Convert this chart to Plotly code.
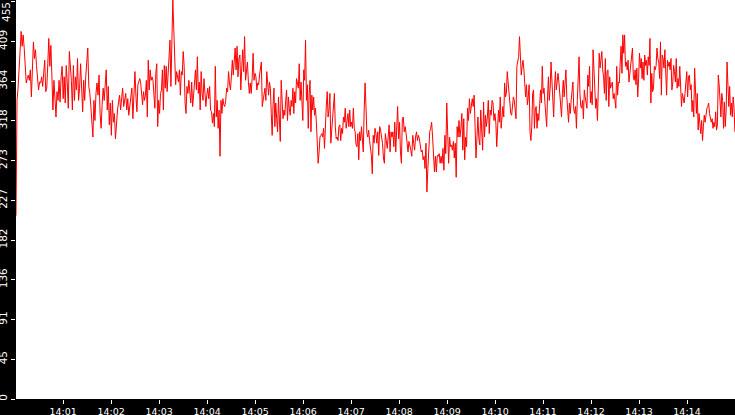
import numpy as np
import pandas as pd
import plotly.graph_objects as go

START = pd.Timestamp("2024-01-01 14:00:01")
SEGMENT_SECONDS = 150

# readings, one list per 2.5 minute window
seg_1400 = [210, 342, 356, 375, 402, 421, 404, 417, 402, 384, 362, 367, 371, 365, 377, 346, 379, 409, 390, 400,
            382, 371, 354, 363, 362, 369, 358, 373, 388, 352, 356, 384, 413, 381, 405, 371, 331, 365, 340, 323,
            352, 342, 365, 340, 369, 381, 344, 369, 339, 382, 362, 333, 398, 379, 365, 331, 382, 342, 369, 354,
            390, 342, 356, 384, 362, 329, 365, 342, 369, 382, 402, 358, 350, 335, 321, 300, 342, 319, 350, 362,
            348, 371, 327, 310, 337, 356, 342, 365, 377, 331, 358, 314, 339, 302, 342, 317, 327, 298, 319, 331,
            340, 348, 331, 346, 356, 335, 342, 350, 331, 344, 325, 335, 342, 356, 321, 354, 375]
seg_1402 = [346, 329, 360, 365, 367, 362, 346, 337, 352, 342, 348, 365, 323, 388, 354, 377, 365, 369, 365, 348,
            333, 373, 384, 312, 342, 327, 350, 354, 377, 331, 382, 356, 381, 352, 375, 382, 411, 358, 425, 457,
            425, 394, 360, 375, 369, 363, 377, 348, 375, 371, 398, 382, 339, 327, 358, 350, 365, 346, 339, 363,
            335, 348, 363, 377, 354, 392, 350, 363, 331, 375, 350, 342, 367, 354, 335, 348, 356, 344, 358, 331,
            329, 316, 327, 312, 381, 323, 342, 310, 331, 278, 342, 327, 344, 337, 335, 342, 356, 352, 375, 362,
            354, 369, 388, 371, 390, 402, 377, 404, 369, 390, 394, 354, 379, 400, 375, 415, 365, 381, 386, 363,
            350, 362, 350, 367, 396, 365, 373]
seg_1405 = [369, 354, 362, 360, 371, 377, 386, 335, 342, 350, 356, 342, 375, 362, 348, 363, 356, 327, 302, 337,
            356, 312, 339, 321, 306, 346, 325, 295, 365, 335, 321, 331, 325, 342, 354, 319, 346, 333, 325, 342,
            335, 356, 327, 352, 339, 367, 363, 356, 384, 342, 363, 331, 319, 377, 365, 411, 342, 360, 310, 350,
            365, 306, 348, 331, 346, 325, 333, 317, 289, 270, 283, 300, 302, 304, 300, 310, 287, 319, 335, 352,
            323, 331, 350, 293, 306, 317, 331, 350, 312, 298, 300, 296, 312, 314, 296, 310, 304, 323, 317, 333,
            310, 317, 327, 312, 331, 312, 317, 310, 333, 310, 306, 291, 289, 304, 274, 306, 296, 312, 291, 283,
            331, 362, 335, 304, 300, 308, 296, 285, 279, 258, 302, 293, 310]
seg_1407 = [304, 293, 306, 279, 312, 308, 300, 293, 276, 270, 304, 296, 287, 300, 314, 283, 306, 300, 306, 289,
            317, 283, 319, 335, 298, 317, 283, 270, 321, 323, 306, 312, 304, 289, 283, 295, 291, 285, 278, 302,
            293, 285, 300, 306, 296, 302, 298, 289, 283, 285, 274, 278, 264, 293, 237, 264, 289, 306, 310, 317,
            300, 274, 260, 278, 260, 279, 278, 281, 270, 278, 270, 287, 262, 302, 281, 339, 312, 270, 300, 289,
            291, 285, 295, 276, 293, 254, 312, 300, 319, 300, 310, 327, 285, 321, 274, 300, 289, 333, 319, 344,
            327, 339, 344, 335, 348, 312, 276, 300, 323, 298, 291, 331, 314, 285, 340, 300, 325, 312, 323, 342,
            304, 331, 325, 342, 339, 319, 327]
seg_1410 = [316, 289, 312, 331, 317, 346, 310, 331, 335, 323, 362, 346, 350, 375, 363, 342, 339, 327, 325, 339,
            346, 342, 331, 321, 381, 386, 392, 415, 388, 371, 381, 388, 377, 362, 346, 360, 337, 346, 360, 306,
            296, 312, 350, 354, 310, 331, 335, 310, 327, 319, 339, 354, 339, 381, 350, 356, 340, 327, 312, 346,
            369, 342, 356, 386, 365, 346, 323, 356, 375, 354, 362, 373, 363, 350, 340, 323, 350, 365, 346, 358,
            377, 346, 325, 317, 339, 327, 342, 352, 363, 331, 327, 335, 310, 342, 363, 392, 350, 335, 333, 342,
            321, 354, 346, 339, 333, 371, 358, 381, 339, 352, 337, 400, 369, 356, 333, 344, 319, 356, 396, 379,
            390, 398, 377, 369, 350, 390, 342, 375, 377, 335, 369, 356, 360, 363, 344, 350, 342]
seg_1412 = [333, 381, 348, 363, 362, 386, 404, 373, 417, 396, 417, 381, 386, 377, 388, 363, 375, 382, 392, 402,
            369, 365, 377, 360, 379, 346, 367, 396, 379, 390, 367, 386, 365, 394, 382, 388, 371, 392, 382, 413,
            339, 373, 352, 356, 381, 377, 382, 402, 390, 386, 367, 409, 348, 394, 390, 379, 400, 369, 348, 388,
            381, 386, 377, 390, 354, 362, 382, 375, 363, 390, 356, 367, 358, 381, 346, 335, 350, 342, 339, 350,
            362, 375, 346, 369, 371, 354, 360, 329, 342, 323, 379, 346, 327, 350, 308, 327, 317, 304, 319, 296,
            312, 325, 317, 331, 333, 335, 339, 327, 323, 317, 321, 310, 317, 312, 329, 308, 314, 371, 360, 346,
            323, 350, 342, 310, 340, 312, 331, 386, 346, 335, 358, 325, 339, 323, 346, 333, 306]

Y_TICKS = [0, 45.5, 91, 136.5, 182, 227.5, 273, 318.5, 364, 409.5, 455]
Y_LABELS = ["0", "45", "91", "136", "182", "227", "273", "318", "364", "409", "455"]

segments = [seg_1400, seg_1402, seg_1405, seg_1407, seg_1410, seg_1412]
times, values = [], []
for i, seg in enumerate(segments):
    offs = np.linspace(0, SEGMENT_SECONDS, len(seg), endpoint=False) + i * SEGMENT_SECONDS
    times.extend(START + pd.to_timedelta(offs, unit="s"))
    values.extend(seg)

fig = go.Figure(go.Scatter(x=times, y=values, mode="lines",
                           line=dict(color="#ff0000", width=1)))

fig.update_layout(
    width=735, height=415,
    margin=dict(l=16, r=0, t=0, b=16),
    paper_bgcolor="black", plot_bgcolor="white",
    showlegend=False,
    font=dict(family="DejaVu Sans", size=10, color="white"),
)
fig.update_xaxes(
    range=[START, START + pd.Timedelta(seconds=899)],
    tickformat="%H:%M", dtick=60000,
    ticks="outside", ticklen=4, tickcolor="white",
    showgrid=False, zeroline=False, automargin=False,
    tickfont=dict(size=9.5, color="white"),
)
# top label would be clipped at the edge, so it is drawn separately below
fig.update_yaxes(
    range=[0, 457],
    tickvals=Y_TICKS, ticktext=Y_LABELS[:-1] + [""], tickangle=-90,
    ticks="outside", ticklen=4, tickcolor="white",
    showgrid=False, zeroline=False, automargin=False,
    tickfont=dict(size=10.5, color="white"),
)
fig.add_annotation(
    text=Y_LABELS[-1], textangle=-90,
    xref="paper", yref="paper", x=0, y=1,
    xanchor="center", yanchor="top", xshift=-10, showarrow=False,
    font=dict(size=10.5, color="white"),
)

# page body has a default 8px margin, drop it so the chart fills the window
fig.write_html("out.html", config={"displayModeBar": False},
               post_script="document.body.style.margin = '0';")
